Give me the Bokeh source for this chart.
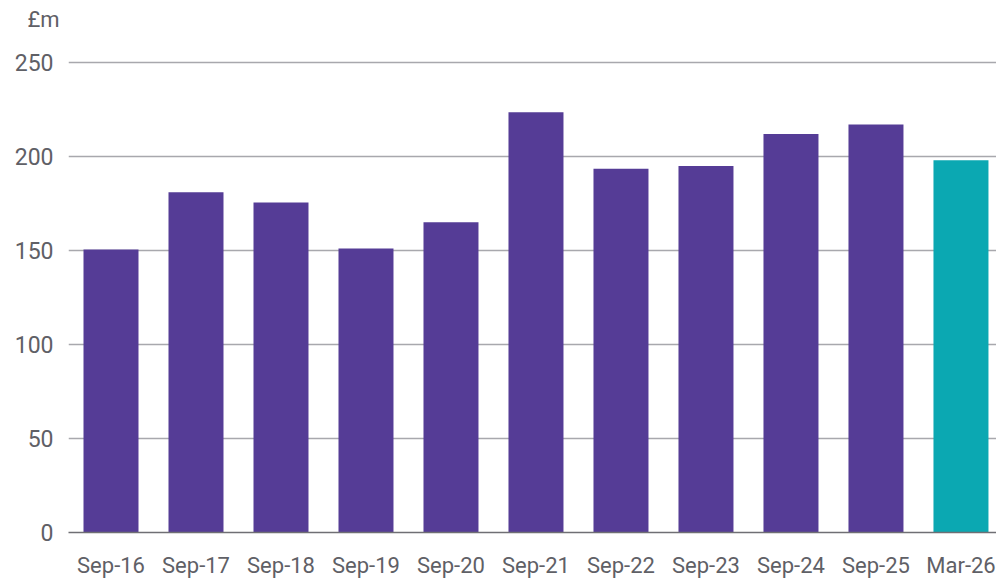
from bokeh.plotting import figure
from bokeh.models import Range1d, FixedTicker, ColumnDataSource
from bokeh.embed import file_html
from bokeh.resources import INLINE

categories = ["Sep-16", "Sep-17", "Sep-18", "Sep-19", "Sep-20", "Sep-21",
              "Sep-22", "Sep-23", "Sep-24", "Sep-25", "Mar-26"]
values = [150.5, 181, 175.5, 151, 165, 223.5, 193.5, 195, 212, 217, 198]
colors = ["#553C96"] * 10 + ["#0BA8B2"]
y_ticks = [0, 50, 100, 150, 200, 250]
unit_label = "£m"

xs = [i + 0.5 for i in range(len(categories))]
src = ColumnDataSource(dict(x=xs, top=values, color=colors))

FONT = "Roboto"
TXT = "#5f6066"

p = figure(width=996, height=581, output_backend="svg", toolbar_location=None,
           x_range=Range1d(0, 10.918), y_range=Range1d(0, 251.06),
           min_border_left=68, min_border_right=0, min_border_top=60,
           min_border_bottom=49)
p.outline_line_color = None
p.background_fill_color = "white"
p.border_fill_color = "white"

# unit label as a left-aligned title; an empty second line lifts it to the top edge
p.title.text = unit_label + "\n"
p.title.align = "left"
p.title.offset = -41
p.title.standoff = 8
p.title.text_line_height = 1.0
p.title.text_font = FONT
p.title.text_font_style = "normal"
p.title.text_font_size = "22px"
p.title.text_color = TXT

p.vbar(x="x", top="top", bottom=0, width=0.647, fill_color="color",
       line_color=None, source=src)

p.xgrid.grid_line_color = None
p.ygrid.grid_line_color = "#a8a8ad"
p.ygrid.grid_line_width = 1.5
p.ygrid.ticker = FixedTicker(ticks=y_ticks)

p.yaxis.ticker = FixedTicker(ticks=y_ticks)
p.yaxis.axis_line_color = None
p.yaxis.major_tick_line_color = None
p.yaxis.minor_tick_line_color = None
p.yaxis.major_label_standoff = 9
p.yaxis.major_label_text_font = FONT
p.yaxis.major_label_text_font_size = "23px"
p.yaxis.major_label_text_color = TXT

p.xaxis.ticker = FixedTicker(ticks=xs)
p.xaxis.major_label_overrides = {x: c for x, c in zip(xs, categories)}
p.xaxis.axis_line_color = "#6f6f74"
p.xaxis.axis_line_width = 1.5
p.xaxis.major_tick_line_color = None
p.xaxis.minor_tick_line_color = None
p.xaxis.major_label_standoff = 14
p.xaxis.major_label_text_font = FONT
p.xaxis.major_label_text_font_size = "22px"
p.xaxis.major_label_text_color = TXT

open("out.html", "w").write(file_html(p, INLINE))
